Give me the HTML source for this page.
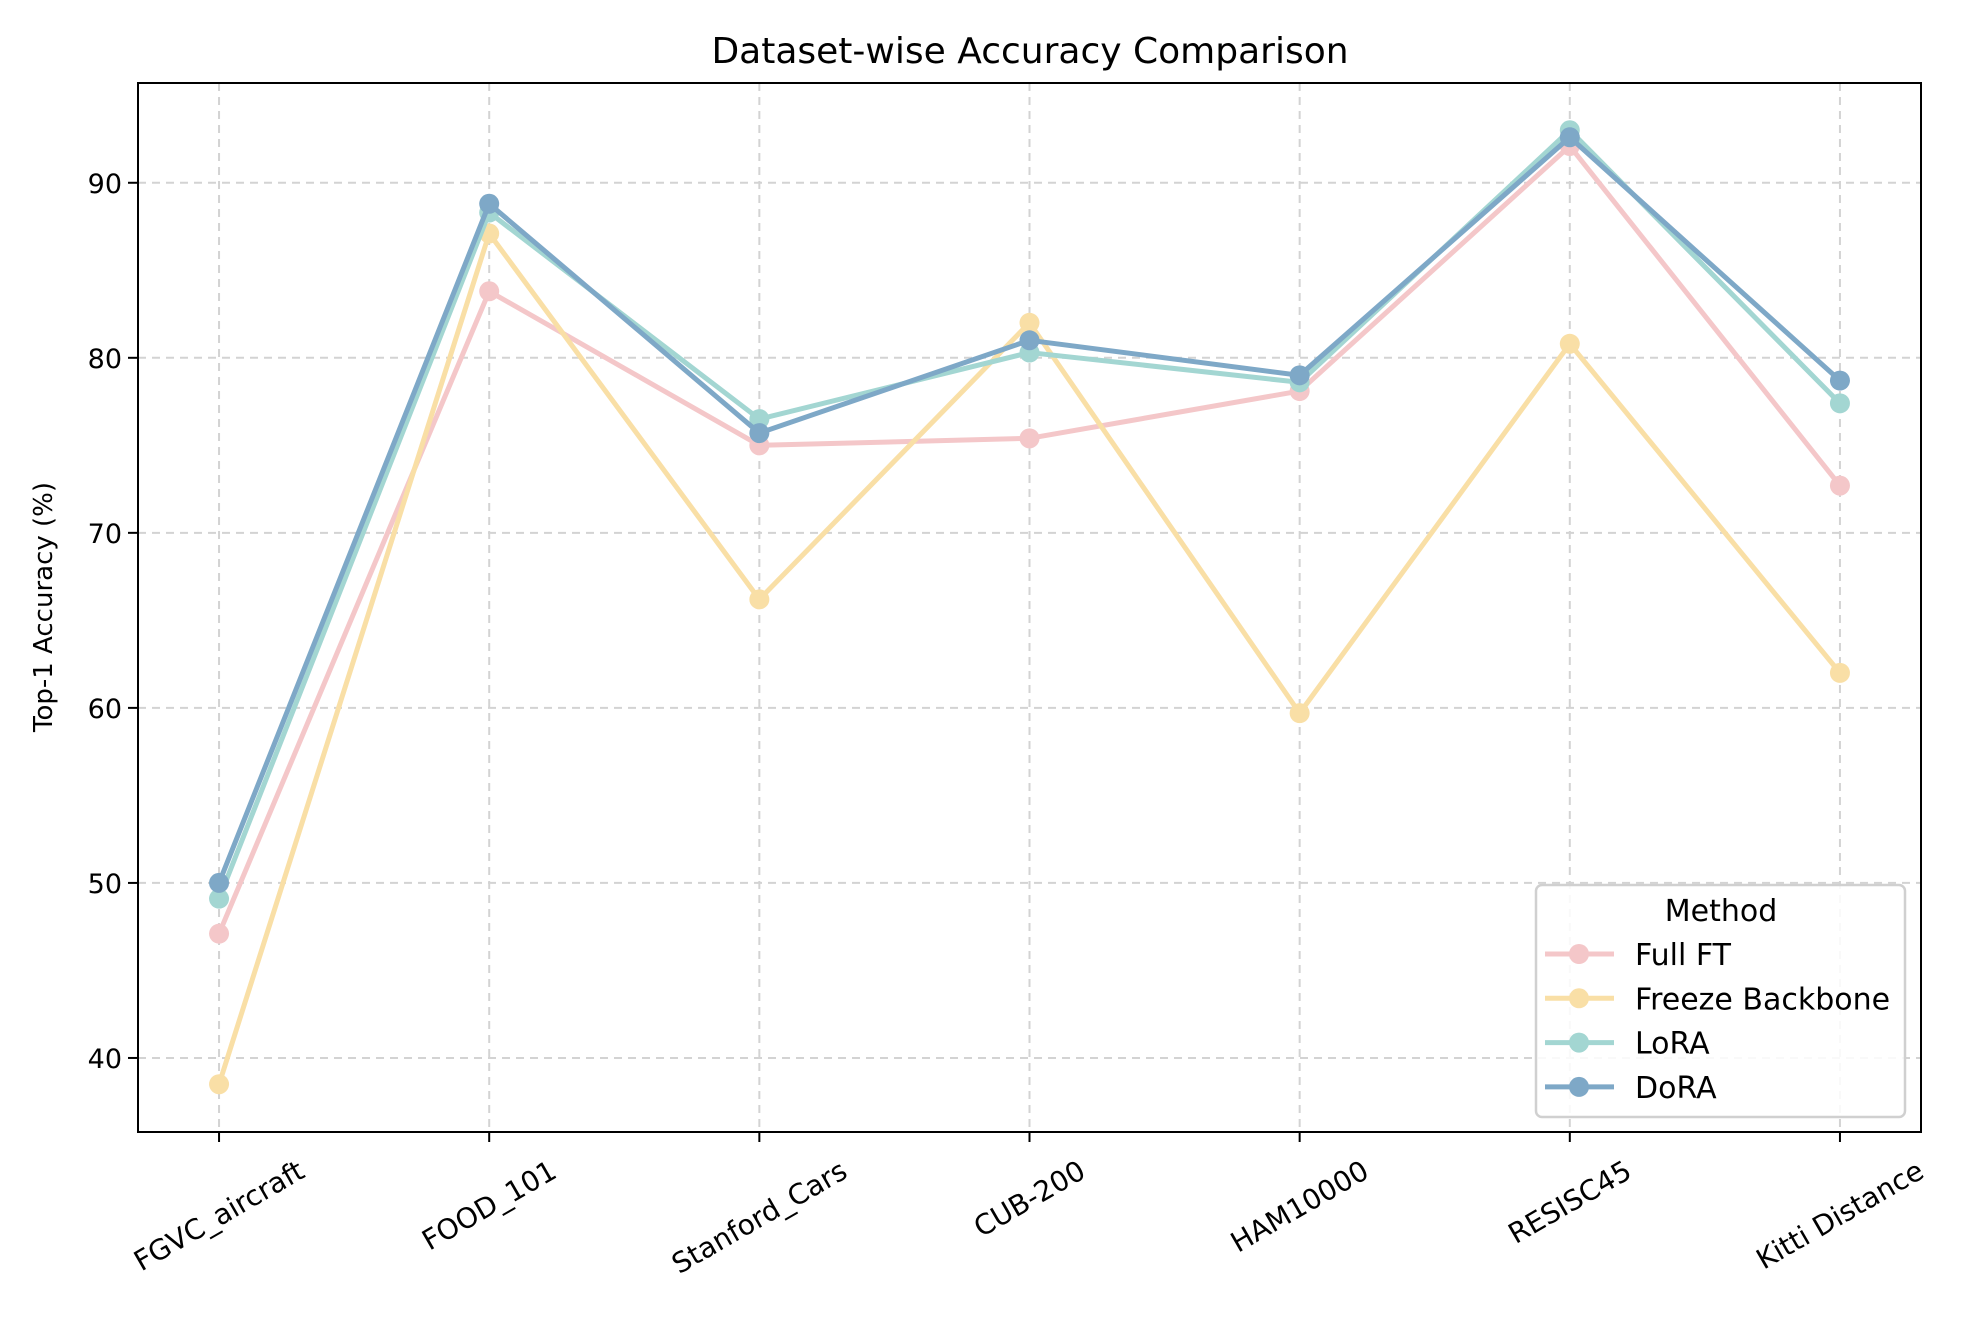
<!DOCTYPE html>
<html><head><meta charset="utf-8"><style>
html,body{margin:0;padding:0;background:#fff;}
svg{display:block;font-family:"DejaVu Sans","Liberation Sans",sans-serif;}
</style></head><body>
<svg id="chart" width="1980" height="1320" viewBox="0 0 1980 1320" xmlns="http://www.w3.org/2000/svg">
<rect width="1980" height="1320" fill="#fff"/>
<text x="1030" y="63" font-size="36" text-anchor="middle">Dataset-wise Accuracy Comparison</text>
<g id="grid"></g>
<g id="series"></g>
<rect x="138" y="83" width="1783" height="1049" fill="none" stroke="#000" stroke-width="2"/>
<g id="axes"></g>
<text transform="translate(52,607) rotate(-90)" font-size="26" text-anchor="middle">Top-1 Accuracy (%)</text>
<g id="legend">
<rect x="1536" y="885" width="369" height="232" rx="6" fill="#fff" fill-opacity="0.85" stroke="#d0d0d0" stroke-width="2.5"/>
<text x="1721" y="921" font-size="30" text-anchor="middle">Method</text>
</g>
</svg>
<script>
const categories = ["FGVC_aircraft","FOOD_101","Stanford_Cars","CUB-200","HAM10000","RESISC45","Kitti Distance"];
const seriesNames = ["Full FT","Freeze Backbone","LoRA","DoRA"];
const fullFT = [47.1, 83.8, 75.0, 75.4, 78.1, 92.1, 72.7];
const freezeBackbone = [38.5, 87.1, 66.2, 82.0, 59.7, 80.8, 62.0];
const lora = [49.1, 88.3, 76.5, 80.3, 78.6, 93.0, 77.4];
const dora = [50.0, 88.8, 75.7, 81.0, 79.0, 92.6, 78.7];
const yTicks = [40, 50, 60, 70, 80, 90];
const colors = ["#f4c7c9","#f9dfa6","#a3d6d2","#7ea8c7"];

const NS = "http://www.w3.org/2000/svg";
const L = 138, R = 1921, T = 83, B = 1132;
const xMin = -0.3, xMax = 6.3, yMin = 35.77, yMax = 95.7;
function xs(i){ return L + (i - xMin) / (xMax - xMin) * (R - L); }
function ys(v){ return B - (v - yMin) / (yMax - yMin) * (B - T); }
function mk(tag, attrs, parent){ const e = document.createElementNS(NS, tag); for (const k in attrs) e.setAttribute(k, attrs[k]); parent.appendChild(e); return e; }

const grid = document.getElementById('grid');
const axes = document.getElementById('axes');
categories.forEach((c, i) => {
  const x = xs(i);
  const g = mk('line', {x1:x, x2:x, y1:T, y2:B, stroke:'#d3d3d3', 'stroke-width':2, 'stroke-dasharray':'8,6'}, grid);
  
  
  const t = mk('line', {x1:x, x2:x, y1:B, y2:B+10, stroke:'#000', 'stroke-width':2}, axes);
  
  
  const lbl = mk('text', {'font-size':28, 'text-anchor':'middle', 'dominant-baseline':'central'}, axes);
  lbl.textContent = c;
  
  
  const len = lbl.getComputedTextLength();
  const h = 28;
  const cy = 1156 + (len * 0.5 + h * 0.866) / 2;
  lbl.setAttribute('transform', `translate(${x},${cy}) rotate(-30)`);
});
yTicks.forEach(v => {
  const y = ys(v);
  const g = mk('line', {x1:L, x2:R, y1:y, y2:y, stroke:'#d3d3d3', 'stroke-width':2, 'stroke-dasharray':'8,6'}, grid);
  
  
  const t = mk('line', {x1:L-10, x2:L, y1:y, y2:y, stroke:'#000', 'stroke-width':2}, axes);
  
  
  const lbl = mk('text', {x:L-16, y:y+10, 'font-size':27, 'text-anchor':'end'}, axes);
  lbl.textContent = v;
  
  
});

const allSeries = [fullFT, freezeBackbone, lora, dora];
const seriesG = document.getElementById('series');
allSeries.forEach((vals, s) => {
  const grp = mk('g', {}, seriesG);
  
  
  const pts = vals.map((v, i) => xs(i) + ',' + ys(v)).join(' ');
  const pl = mk('polyline', {points:pts, fill:'none', stroke:colors[s], 'stroke-width':5, 'stroke-linejoin':'round'}, grp);
  
  
  vals.forEach((v, i) => {
    const c = mk('circle', {cx:xs(i), cy:ys(v), r:10, fill:colors[s]}, grp);
    
    
  });
});

const legend = document.getElementById('legend');
seriesNames.forEach((n, s) => {
  const cy = 954 + s * 44.3;
  const ln = mk('line', {x1:1545, x2:1614, y1:cy, y2:cy, stroke:colors[s], 'stroke-width':5}, legend);
  
  
  const c = mk('circle', {cx:1579, cy:cy, r:10, fill:colors[s]}, legend);
  
  
  const t = mk('text', {x:1635, y:cy+11, 'font-size':30}, legend);
  t.textContent = n;
  
  
});
</script>
</body></html>
